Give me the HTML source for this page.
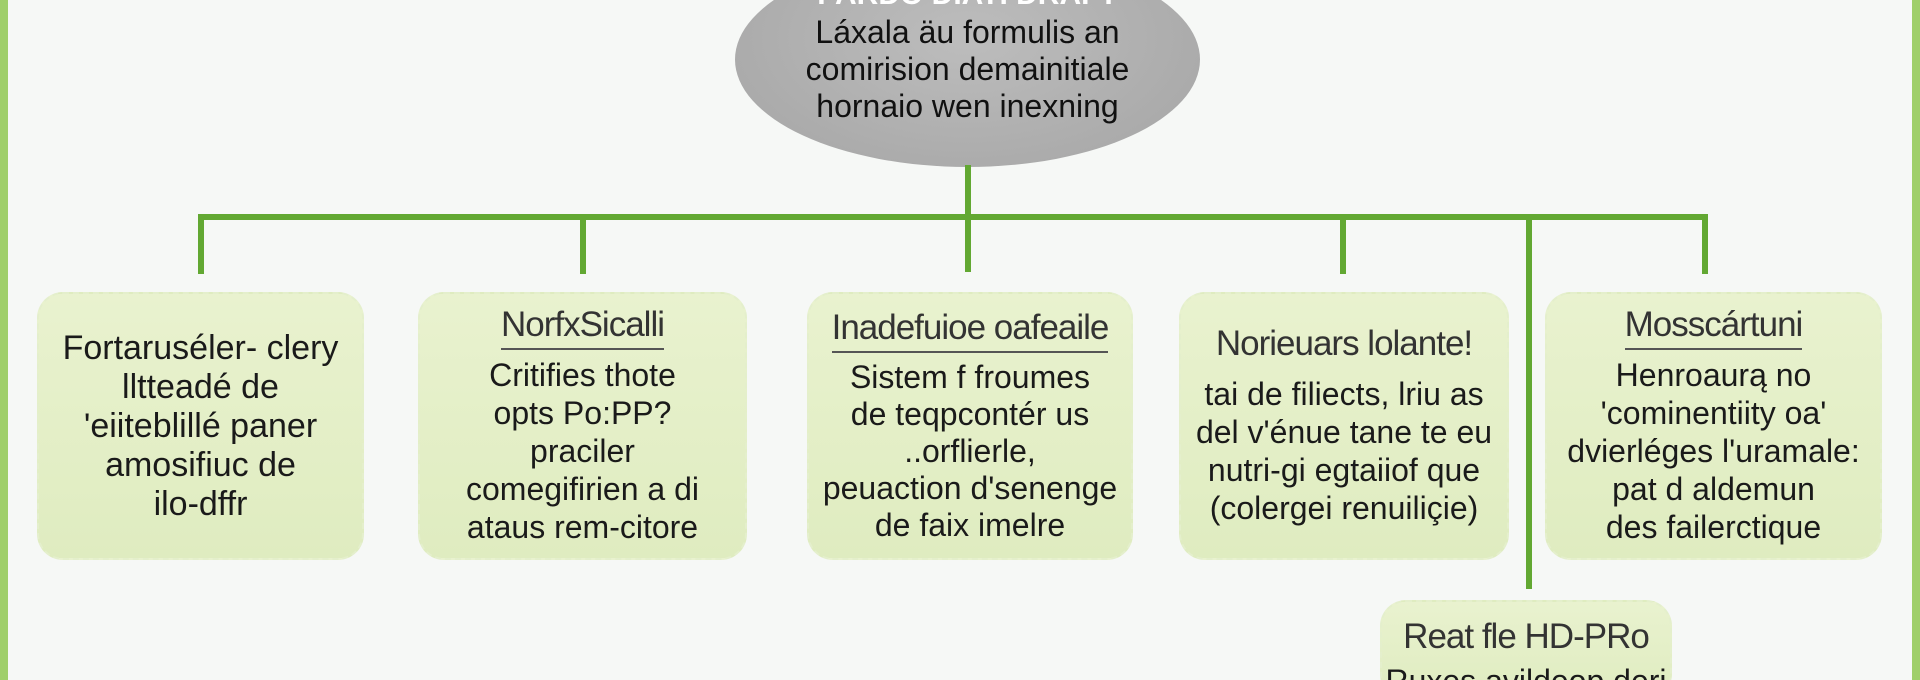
<!DOCTYPE html>
<html><head><meta charset="utf-8"><style>
html,body{margin:0;padding:0;overflow:hidden;width:1920px;height:680px}
body{position:relative;background:#f6f8f6;font-family:"Liberation Sans",sans-serif;color:#1a1a1a}
.bar{position:absolute;top:0;height:680px;width:8px;background:#9fcf6a}
.ln{position:absolute;background:#62a832}
.ell{position:absolute;left:735px;top:-48px;width:465px;height:215px;border-radius:50%;background:radial-gradient(ellipse at 50% 40%,#bdbdbd,#a9a9a9 80%,#a0a0a0);}
.et{position:absolute;left:715px;width:505px;text-align:center;font-size:32px;line-height:37px;top:14px;color:#111}
.box{position:absolute;border-radius:26px;background:linear-gradient(#e9f2cf,#dfecc0);border:2px dashed #e4efcc;box-sizing:border-box;display:flex;flex-direction:column;justify-content:center;align-items:center;text-align:center;font-size:32px;line-height:38px;white-space:nowrap}
.t{color:#333;font-size:35px;line-height:38px;padding-bottom:4px;margin-bottom:6px;border-bottom:2px solid #555;letter-spacing:-1px}
</style></head><body>
<div class="bar" style="left:0"></div>
<div class="bar" style="right:0"></div>
<div class="ell"></div>
<div style="position:absolute;left:735px;width:465px;top:-22px;text-align:center;font-size:30px;font-weight:bold;color:#fff">PARDO DIATI DRAFT</div>
<div class="et">Láxala äu formulis an<br>comirision demainitiale<br>hornaio wen inexning</div>
<div class="ln" style="left:965px;top:165px;width:6px;height:107px"></div>
<div class="ln" style="left:198px;top:214px;width:1510px;height:6px"></div>
<div class="ln" style="left:198px;top:214px;width:6px;height:60px"></div>
<div class="ln" style="left:580px;top:214px;width:6px;height:60px"></div>
<div class="ln" style="left:1340px;top:214px;width:6px;height:60px"></div>
<div class="ln" style="left:1702px;top:214px;width:6px;height:60px"></div>
<div class="ln" style="left:1526px;top:214px;width:6px;height:375px"></div>
<div class="box" style="left:37px;top:292px;width:327px;height:268px;font-size:34px;line-height:39px">Fortaruséler- clery<br>lltteadé de<br>'eiiteblillé paner<br>amosifiuc de<br>ilo-dffr</div>
<div class="box" style="left:418px;top:292px;width:329px;height:268px"><span class="t">NorfxSicalli</span>Critifies thote<br>opts Po:PP?<br>praciler<br>comegifirien a di<br>ataus rem-citore</div>
<div class="box" style="left:807px;top:292px;width:326px;height:268px;line-height:37px"><span class="t">Inadefuioe oafeaile</span>Sistem f froumes<br>de teqpcontér us<br>..orflierle,<br>peuaction d'senenge<br>de faix imelre</div>
<div class="box" style="left:1179px;top:292px;width:330px;height:268px"><span style="font-size:35px;color:#333;margin-bottom:12px;letter-spacing:-1px">Norieuars lolante!</span>tai de filiects, lriu as<br>del v'énue tane te eu<br>nutri-gi egtaiiof que<br>(colergei renuiliçie)</div>
<div class="box" style="left:1545px;top:292px;width:337px;height:268px"><span class="t">Mosscártuni</span>Henroaurą no<br>'cominentiity oa'<br>dvierléges l'uramale:<br>pat d aldemun<br>des failerctique</div>
<div class="box" style="left:1380px;top:600px;width:292px;height:100px;justify-content:flex-start;padding-top:16px"><span style="font-size:35px;color:#333;letter-spacing:-1px;margin-bottom:6px">Reat fle HD-PRo</span>Ruxes avildeop deri</div>
</body></html>
